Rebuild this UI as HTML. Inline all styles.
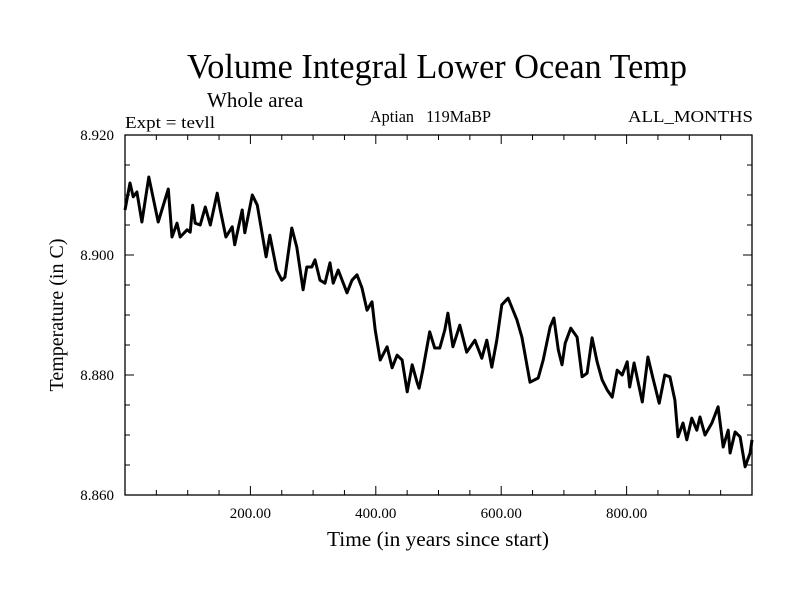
<!DOCTYPE html>
<html><head><meta charset="utf-8"><style>
body{margin:0;background:#fff}
svg text{font-family:"Liberation Serif",serif;fill:#000}
</style></head><body>
<svg width="800" height="600" id="c">
<text x="187" y="78" font-size="35" textLength="500" lengthAdjust="spacingAndGlyphs">Volume Integral Lower Ocean Temp</text>
<text x="207" y="107" font-size="21">Whole area</text>
<text x="125" y="128" font-size="17" textLength="90" lengthAdjust="spacingAndGlyphs">Expt = tevll</text>
<text x="370" y="122" font-size="17" xml:space="preserve" textLength="121" lengthAdjust="spacingAndGlyphs">Aptian   119MaBP</text>
<text x="628" y="122" font-size="17" textLength="125" lengthAdjust="spacingAndGlyphs">ALL_MONTHS</text>
<text x="327" y="546" font-size="21" textLength="222" lengthAdjust="spacingAndGlyphs">Time (in years since start)</text>
<text transform="translate(63,315) rotate(-90)" font-size="20" text-anchor="middle">Temperature (in C)</text>
<g id="axes"></g>
</svg>
<script>
const years=[0,8,13,19,27,38,53,69,75,83,88,99,104,108,112,120,128,136,147,152,161,171,175,187,191,203,211,225,231,242,250,255,266,274,284,290,298,303,311,319,327,332,340,354,362,370,378,386,394,399,407,418,426,434,442,450,458,466,469,475,486,494,502,510,515,523,534,545,558,569,577,585,593,601,611,625,633,646,659,667,678,684,691,697,702,711,721,729,737,745,753,761,769,777,785,793,801,805,812,825,834,842,852,861,869,877,882,890,896,904,912,917,925,936,946,954,962,965,973,981,989,997,1000];
const temps=[8.9075,8.912,8.9097,8.9105,8.9055,8.913,8.9055,8.911,8.903,8.9053,8.903,8.9042,8.9038,8.9083,8.9053,8.905,8.908,8.905,8.9103,8.9075,8.903,8.9047,8.9017,8.9075,8.9037,8.910,8.9083,8.8997,8.9033,8.8975,8.8958,8.8963,8.9045,8.9013,8.8942,8.898,8.898,8.8992,8.8958,8.8953,8.8987,8.8953,8.8975,8.8937,8.8958,8.8967,8.8945,8.8908,8.8922,8.8875,8.8825,8.8847,8.8812,8.8833,8.8825,8.8772,8.8817,8.8787,8.8778,8.8808,8.8872,8.8845,8.8845,8.8875,8.8903,8.8847,8.8883,8.8838,8.8858,8.8828,8.8858,8.8813,8.8858,8.8917,8.8928,8.8892,8.8863,8.8788,8.8795,8.8825,8.888,8.8895,8.8842,8.8817,8.8853,8.8878,8.8863,8.8797,8.8803,8.8862,8.8822,8.8792,8.8775,8.8763,8.8808,8.88,8.8822,8.878,8.882,8.8755,8.883,8.8795,8.8753,8.88,8.8797,8.8758,8.8697,8.872,8.8692,8.8728,8.8708,8.873,8.87,8.872,8.8747,8.868,8.8708,8.867,8.8705,8.8697,8.8647,8.867,8.8692];
const xTicks=[200,400,600,800];
const xTickLabels=["200.00","400.00","600.00","800.00"];
const yTicks=[8.86,8.88,8.90,8.92];
const yTickLabels=["8.860","8.880","8.900","8.920"];
const X0=125,X1=752,Y0=495,Y1=135;
const xs=v=>X0+(v-0)/1000*(X1-X0);
const ys=v=>Y0-(v-8.86)/0.06*(Y0-Y1);
const NS="http://www.w3.org/2000/svg";
const g=document.getElementById('axes');
function mk(t,a){const e=document.createElementNS(NS,t);for(const k in a)e.setAttribute(k,a[k]);g.appendChild(e);return e;}
const frame=mk('rect',{x:X0,y:Y1,width:X1-X0,height:Y0-Y1,fill:'none',stroke:'#000','stroke-width':1.3});


for(let v=50;v<1000;v+=50){const x=xs(v);const L=(v%200===0)?9:5;
 const t1=mk('line',{x1:x,x2:x,y1:Y0,y2:Y0-L,stroke:'#000'});
 
 
 const t2=mk('line',{x1:x,x2:x,y1:Y1,y2:Y1+L,stroke:'#000'});
 
 }
for(let i=1;i<12;i++){const v=8.86+i*0.005;const y=ys(v);const L=(i%4===0)?9:5;
 const t1=mk('line',{x1:X0,x2:X0+L,y1:y,y2:y,stroke:'#000'});
 
 
 const t2=mk('line',{x1:X1,x2:X1-L,y1:y,y2:y,stroke:'#000'});
 
 }
xTicks.forEach((v,i)=>{const t=mk('text',{x:xs(v),y:Y0+23,'font-size':15,'text-anchor':'middle'});t.textContent=xTickLabels[i];
 
 });
yTicks.forEach((v,i)=>{const t=mk('text',{x:114,y:ys(v)+5,'font-size':15,'text-anchor':'end'});t.textContent=yTickLabels[i];
 
 });
const d=years.map((v,i)=>(i?'L':'M')+xs(v).toFixed(1)+','+ys(temps[i]).toFixed(1)).join('');
const p=mk('path',{d:d,fill:'none',stroke:'#000','stroke-width':3,'stroke-linejoin':'round'});


</script>
</body></html>
